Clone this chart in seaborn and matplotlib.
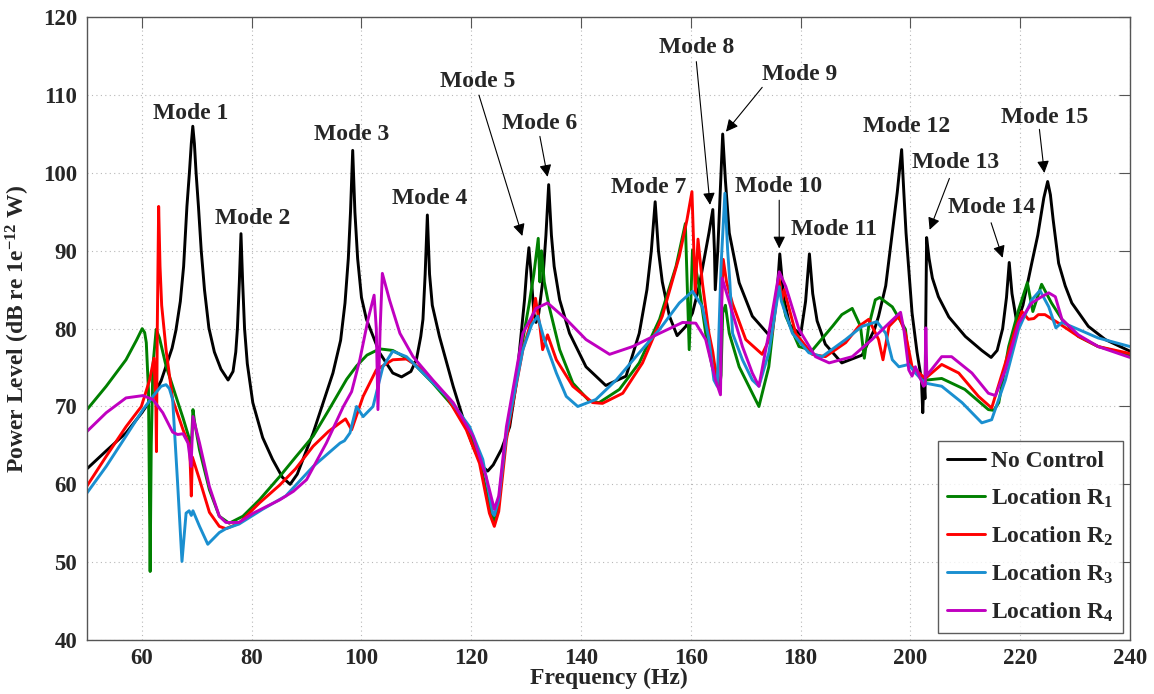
import numpy as np
import pandas as pd
import matplotlib
matplotlib.use("Agg")
import matplotlib.pyplot as plt
import seaborn as sns

# ---- measured sound power spectra (frequency in Hz, level in dB re 1e-12 W) ----
nc_freq = [50, 53.5, 57.1, 60, 62, 63.5, 64.4, 65.5, 66.2, 67.0, 67.6, 68.2, 68.65, 69.0, 69.27,
           69.56, 69.87, 70.3, 70.8, 71.4, 72.2, 73.2, 74.4, 75.7, 76.6, 77.1, 77.4, 77.75, 78.05,
           78.35, 78.7, 79.2, 80.2, 82.0, 83.8, 85.6, 87.0, 88.3, 91.2, 94.8, 96.2, 97.0, 97.6,
           98.0, 98.4, 98.8, 99.3, 100.0, 100.9, 103.3, 105.7, 107.3, 109.0, 110.0, 110.8, 111.2,
           111.6, 112.0, 112.4, 112.9, 114.2, 116.7, 118.5, 120.3, 122.0, 123.0, 124.0, 125.5,
           127.0, 128.2, 128.8, 129.7, 130.1, 130.5, 130.9, 131.4, 131.8, 132.3, 133.0, 133.6,
           134.1, 134.6, 135.1, 136.1, 137.9, 140.9, 144.5, 148.2, 150.6, 152.0, 152.8, 153.5,
           154.1, 154.8, 156.1, 157.5, 159.1, 160.3, 161.5, 163.3, 164.0, 164.3, 164.45, 164.9,
           165.3, 165.8, 166.3, 167.0, 168.8, 171.2, 174.2, 175.4, 175.9, 176.2, 176.6, 177.0,
           178.0, 180.0, 180.9, 181.6, 182.2, 183.0, 184.5, 187.5, 191.2, 193.5, 194.2, 195.5,
           196.7, 197.6, 198.4, 198.8, 199.2, 200.3, 201.2, 202.0, 202.25, 202.45, 202.65, 202.95,
           203.4, 204.0, 205.1, 207.0, 210.0, 213.0, 214.7, 215.8, 216.8, 217.5, 218.0, 218.5,
           219.4, 220.5, 222.1, 223.2, 224.3, 225.0, 225.5, 226.0, 227.0, 228.2, 229.4, 232.4,
           235.5, 240]
nc_db = [62.0, 64.3, 66.6, 69.2, 71.3, 73.3, 75.2, 77.5, 79.8, 83.5, 88.0, 95.7, 100.0, 103.8, 106.0,
         103.8, 100.0, 95.7, 90.1, 85.0, 80.1, 77.0, 74.8, 73.4, 74.5, 77.0, 80.0, 86.0, 92.2,
         86.0, 80.0, 75.5, 70.5, 66.0, 63.2, 60.9, 60.0, 61.3, 66.6, 74.3, 78.5, 83.3, 89.0,
         95.0, 102.9, 95.0, 89.0, 84.0, 81.2, 76.9, 74.3, 73.8, 74.5, 76.0, 79.0, 81.2,
         87.0, 94.6, 87.0, 83.0, 79.0, 72.6, 68.5, 64.9, 62.3, 61.7, 62.5, 64.5,
         67.4, 73.0, 77.3, 83.7, 87.5, 90.4, 87.0, 82.0, 80.8, 82.0, 86.0, 92.0,
         98.5, 92.0, 88.0, 83.7, 79.4, 75.1, 72.7, 73.9, 79.4, 85.0, 90.0, 96.3,
         90.0, 86.0, 81.6, 79.1, 80.3, 82.0, 85.4, 92.3, 95.3, 90.0, 85.0, 90.0,
         96.6, 105.0, 99.0, 92.3, 85.9, 81.6, 79.2, 83.0, 86.5, 89.6, 86.5, 83.7,
         80.5, 79.2, 83.5, 89.6, 84.5, 81.0, 78.0, 75.6, 76.6, 80.0, 81.6, 85.5,
         92.3, 97.5, 103.0, 97.5, 92.3, 82.0, 77.0, 73.5, 69.2, 73.5, 71.0, 91.7,
         89.0, 86.5, 84.1, 81.5, 79.0, 77.2, 76.3, 77.2, 80.0, 84.0, 88.5, 84.5,
         80.7, 83.0, 88.4, 92.0, 96.8, 98.9, 97.2, 94.0, 88.4, 85.5, 83.3, 80.3,
         78.6, 77.1]

r1_freq = [50, 53.5, 57.1, 59.0, 60.05, 60.5, 60.8, 61.2, 61.5, 61.7, 62.0, 62.6, 63.2, 64.4, 66.2,
           67.5, 68.7, 69.0, 69.3, 69.6, 70.5, 72.3, 74.1, 75.9, 78.4, 81.4, 85.1, 88.0, 91.2,
           94.0, 97.3, 99.1, 101.0, 103.3, 105.7, 107.5, 109.4, 113.0, 116.7, 119.7, 121.5,
           123.3, 124.2, 125.0, 126.4, 128.0, 129.4, 130.5, 131.4, 132.2, 132.5, 132.8, 133.3,
           134.2, 136.1, 138.5, 141.5, 143.3, 147.0, 150.6, 154.3, 157.3, 159.0, 159.7, 160.3,
           161.5, 162.7, 163.9, 165.2, 165.5, 165.8, 166.3, 167.0, 168.8, 171.2, 172.4, 174.2,
           175.7, 176.2, 177.3, 179.7, 182.1, 185.8, 187.5, 189.4, 190.9, 191.6, 192.4, 193.6,
           194.4, 196.7, 199.1, 199.7, 200.6, 202.1, 203.0, 205.7, 209.9, 214.2, 215.2, 216.1,
           217.9, 219.7, 221.3, 222.3, 223.9, 225.7, 227.6, 230.6, 234.2, 240]
r1_db = [69.6, 72.6, 76.0, 78.5, 80.0, 79.5, 78.2, 72.0, 48.8, 65.0, 75.2, 79.9, 78.8, 75.2, 71.3,
         68.5, 65.7, 64.8, 69.6, 68.0, 64.4, 59.3, 55.9, 55.0, 55.9, 58.0, 61.0, 63.5, 66.2,
         69.5, 73.5, 75.2, 76.6, 77.4, 77.2, 76.5, 75.6, 73.0, 70.0, 66.6, 63.2,
         57.2, 55.1, 57.5, 66.6, 73.0, 78.6, 83.0, 87.0, 91.6, 86.0, 90.0, 86.0,
         82.8, 77.3, 73.0, 70.7, 70.5, 72.2, 75.6, 81.2, 88.0, 93.5, 77.3, 90.1,
         85.4, 79.4, 75.1, 72.2, 74.0, 82.0, 83.0, 79.4, 75.1, 71.7, 70.0, 75.1,
         84.6, 85.3, 81.6, 77.7, 77.2, 80.3, 81.8, 82.6, 80.3, 76.2, 80.3, 83.7,
         84.0, 82.8, 79.9, 75.6, 74.7, 73.4, 73.4, 73.6, 72.2, 69.6, 69.5, 70.5,
         77.7, 82.4, 85.9, 82.2, 85.7, 83.3, 81.2, 79.0, 77.7, 76.6]

r2_freq = [50, 53.5, 57.1, 59.9, 61.4, 62.2, 62.55, 62.65, 62.8, 63.05, 63.3, 63.6, 64.4, 65.6,
           67.5, 68.7, 69.0, 69.2, 70.5, 72.3, 74.1, 75.3, 77.7, 81.4, 85.1, 88.0, 91.2, 94.0,
           96.1, 97.1, 98.2, 100.3, 102.7, 105.7, 108.2, 111.2, 115.5, 119.1, 121.5, 123.3,
           124.2, 125.0, 126.4, 128.0, 129.4, 131.2, 131.7, 132.5, 133.0, 133.9, 135.5, 138.5,
           142.1, 143.9, 147.6, 151.2, 154.8, 157.9, 159.3, 160.2, 160.8, 161.3, 162.1, 163.3,
           164.0, 164.8, 165.4, 165.9, 166.5, 167.6, 170.0, 173.0, 174.8, 176.1, 176.6, 177.0,
           179.1, 182.1, 184.5, 188.2, 190.6, 192.4, 194.2, 195.0, 196.1, 197.9, 199.1, 200.3,
           202.7, 205.7, 208.8, 212.4, 214.8, 217.3, 219.1, 220.3, 221.5, 222.5, 223.3, 224.5,
           227.0, 230.6, 234.2, 240]
r2_db = [59.8, 63.6, 67.4, 70.0, 73.4, 76.2, 70.0, 64.2, 80.0, 95.7, 88.0, 83.0, 77.3, 70.9,
         67.0, 64.9, 58.5, 63.5, 60.6, 56.4, 54.6, 54.3, 55.0, 57.6, 59.9, 62.0, 64.9, 66.8,
         67.9, 68.4, 67.0, 71.3, 74.7, 76.0, 76.1, 74.7, 71.3, 67.0, 62.7, 56.3,
         54.6, 56.5, 65.7, 72.0, 77.3, 81.6, 83.9, 80.3, 77.3, 79.2, 76.0, 72.6,
         70.5, 70.4, 71.7, 75.6, 81.6, 89.3, 94.0, 97.6, 84.5, 91.5, 85.9, 79.4,
         77.0, 73.0, 80.0, 88.9, 86.0, 83.2, 78.6, 76.7, 79.4, 86.3, 83.7, 85.0,
         79.4, 76.7, 76.4, 78.2, 80.3, 81.2, 78.6, 76.0, 80.3, 81.6, 79.4, 75.1,
         73.6, 75.4, 74.3, 71.3, 69.8, 75.6, 79.9, 82.2, 81.2, 81.3, 81.8, 81.8,
         80.7, 79.0, 77.7, 76.8]

r3_freq = [50, 53.5, 57.1, 60.2, 62.0, 63.5, 64.4, 65.0, 65.6, 66.5, 67.3, 68.05, 68.6, 69.0,
           69.3, 70.5, 72.0, 74.1, 75.3, 77.7, 82.0, 86.2, 91.2, 96.1, 96.9, 97.9, 99.1, 100.3,
           102.1, 103.9, 105.7, 108.2, 111.8, 116.1, 119.7, 122.1, 123.9, 124.2, 125.0, 126.4,
           129.4, 131.0, 132.1, 133.3, 135.5, 137.3, 139.4, 142.7, 146.4, 150.6, 154.3, 157.9,
           160.3, 162.1, 163.3, 164.2, 164.8, 165.5, 166.2, 166.7, 167.1, 167.6, 169.4, 171.2,
           172.4, 174.2, 176.1, 176.5, 178.5, 181.5, 183.9, 188.2, 191.2, 193.9, 195.5, 196.7,
           197.9, 199.1, 199.7, 200.9, 202.7, 205.7, 209.4, 213.0, 214.8, 217.3, 219.7, 222.1,
           223.6, 225.2, 226.5, 227.6, 230.6, 234.2, 240]
r3_db = [58.9, 62.3, 66.2, 69.6, 71.3, 72.6, 72.8, 72.3, 70.9, 60.2, 50.1, 56.3, 56.6, 56.0,
         56.6, 54.6, 52.3, 53.8, 54.3, 54.9, 56.8, 58.5, 62.3, 65.3, 65.6, 66.6, 70.0, 68.7,
         70.0, 75.1, 77.1, 76.4, 73.9, 70.9, 67.4, 63.2, 56.3, 56.0, 58.0, 66.5,
         77.3, 80.5, 81.6, 78.6, 74.3, 71.3, 70.0, 70.9, 73.4, 76.9, 79.9, 83.3,
         84.8, 82.8, 78.6, 73.4, 72.6, 88.0, 97.4, 90.1, 86.0, 79.4, 76.0, 73.4,
         72.6, 76.9, 85.4, 83.5, 79.4, 76.9, 76.4, 78.6, 80.3, 80.9, 79.4, 76.0,
         75.1, 75.3, 75.4, 74.3, 73.0, 72.6, 70.5, 67.9, 68.3, 73.4, 79.9, 83.7,
         84.9, 82.8, 80.1, 80.8, 79.9, 78.8, 77.7]

r4_freq = [50, 53.5, 57.1, 60.2, 62.0, 63.8, 65.6, 66.5, 67.5, 68.4, 68.96, 69.3, 70.5, 72.3,
           74.1, 75.3, 77.7, 80.3, 85.1, 87.6, 90.0, 93.6, 96.7, 98.2, 99.7, 101.2, 102.3, 102.7,
           103.0, 103.4, 103.8, 105.1, 107.0, 109.4, 113.0, 116.7, 120.3, 122.7, 124.2, 125.0,
           126.4, 129.4, 131.8, 133.9, 137.3, 140.9, 145.2, 149.4, 154.3, 158.5, 160.9, 162.7,
           163.9, 164.5, 165.4, 165.7, 167.6, 169.4, 171.2, 172.4, 174.2, 176.1, 177.3, 179.7,
           182.7, 185.2, 189.4, 193.0, 196.1, 198.2, 198.8, 199.7, 200.3, 200.9, 202.4, 202.7,
           202.8, 203.0, 205.7, 207.5, 211.2, 214.2, 215.5, 217.3, 219.7, 222.1, 223.9, 225.2,
           226.4, 227.6, 230.6, 234.2, 240]
r4_db = [66.8, 69.2, 71.1, 71.4, 70.9, 69.2, 66.7, 66.4, 66.5, 65.3, 62.3, 68.7, 65.3, 59.7,
         55.9, 55.1, 55.1, 56.3, 58.0, 59.1, 60.6, 65.3, 70.0, 71.9, 76.0, 81.2, 84.3, 80.0,
         69.6, 80.0, 87.1, 83.7, 79.4, 76.4, 73.4, 70.5, 66.2, 61.0, 56.8, 58.5,
         67.4, 79.4, 82.6, 83.3, 81.2, 78.6, 76.7, 77.7, 79.4, 80.8, 80.7, 78.6,
         75.1, 73.4, 71.5, 86.5, 82.0, 77.7, 74.3, 72.6, 79.4, 87.3, 85.4, 79.9,
         76.4, 75.6, 76.4, 78.6, 80.7, 82.1, 79.9, 74.7, 73.9, 75.1, 72.6, 72.8,
         80.1, 74.0, 76.4, 76.4, 74.3, 71.7, 71.4, 74.7, 80.7, 83.3, 84.1, 84.6,
         84.1, 81.2, 79.2, 77.7, 76.3]

series_names = ["No Control", "Location R$_1$", "Location R$_2$", "Location R$_3$", "Location R$_4$"]
series_colors = ["#000000", "#008000", "#ff0000", "#1a8fd0", "#c000c0"]
series_data = [(nc_freq, nc_db), (r1_freq, r1_db), (r2_freq, r2_db), (r3_freq, r3_db), (r4_freq, r4_db)]

x_ticks = [60, 80, 100, 120, 140, 160, 180, 200, 220, 240]
y_ticks = [40, 50, 60, 70, 80, 90, 100, 110, 120]

# mode labels: (text, label position, arrow tail, arrow head) in data units
mode_labels = [
    ("Mode 1", (68.8, 107.7), None, None),
    ("Mode 2", (80.1, 94.2), None, None),
    ("Mode 3", (98.2, 105.0), None, None),
    ("Mode 4", (112.4, 96.7), None, None),
    ("Mode 5", (121.2, 111.8), (121.4, 110.0), (129.3, 91.9)),
    ("Mode 6", (132.4, 106.4), (132.5, 104.7), (133.9, 99.5)),
    ("Mode 7", (152.4, 98.1), None, None),
    ("Mode 8", (161.0, 116.1), (161.0, 114.3), (163.5, 95.9)),
    ("Mode 9", (179.9, 112.6), (173.0, 111.0), (166.4, 105.3)),
    ("Mode 10", (175.9, 98.3), (176.1, 96.5), (176.1, 90.3)),
    ("Mode 11", (186.0, 92.7), None, None),
    ("Mode 12", (199.3, 106.0), None, None),
    ("Mode 13", (208.2, 101.3), (207.1, 99.3), (203.5, 92.7)),
    ("Mode 14", (214.8, 95.6), (214.7, 93.6), (216.8, 89.1)),
    ("Mode 15", (224.4, 107.1), (223.5, 105.6), (224.4, 100.0)),
]

sns.set_style("white")
serif = ["Liberation Serif", "DejaVu Serif"]
plt.rcParams["font.family"] = serif
plt.rcParams["font.weight"] = "bold"
plt.rcParams["mathtext.fontset"] = "custom"
plt.rcParams["mathtext.rm"] = "Liberation Serif:bold"
plt.rcParams["mathtext.it"] = "Liberation Serif:bold"
plt.rcParams["mathtext.bf"] = "Liberation Serif:bold"
plt.rcParams["mathtext.default"] = "rm"

fig = plt.figure(figsize=(11.54, 6.94), dpi=100)
ax = fig.add_axes([0.0754, 0.0778, 0.9038, 0.8973])

for name, color, (fr, db) in zip(series_names, series_colors, series_data):
    df = pd.DataFrame({"Frequency": fr, "Level": db})
    sns.lineplot(data=df, x="Frequency", y="Level", ax=ax, color=color, lw=2.1,
                 sort=False, estimator=None, label=name)

ax.set_xlim(50, 240)
ax.set_ylim(40, 120)
ax.set_xticks(x_ticks)
ax.set_yticks(y_ticks)
ax.set_xticklabels([str(v) for v in x_ticks])
ax.set_yticklabels([str(v) for v in y_ticks])
ax.grid(True, linestyle=(0, (1, 3)), color="#b8b8b8", lw=0.8)
ax.tick_params(direction="in", length=8, width=0.8, color="#555555",
               top=True, right=True, labelsize=16.5, pad=7)
ax.tick_params(axis="x", pad=6)
for lab in ax.get_xticklabels() + ax.get_yticklabels():
    lab.set_fontweight("bold")
for sp in ax.spines.values():
    sp.set_visible(True)
    sp.set_color("#555555")
    sp.set_linewidth(1.0)

ax.set_xlabel("Frequency (Hz)", fontsize=17, fontweight="bold", labelpad=-1)
ax.set_ylabel("Power Level (dB re 1e$^{-12}$ W)", fontsize=17, fontweight="bold", labelpad=8)

for text, pos, tail, head in mode_labels:
    ax.text(pos[0], pos[1], text, fontsize=17, fontweight="bold", ha="center", va="center")
    if tail is not None:
        ax.annotate("", xy=head, xytext=tail,
                    arrowprops=dict(arrowstyle="-|>", color="black", lw=0.8,
                                    mutation_scale=18, shrinkA=0, shrinkB=0))

leg = ax.legend(loc="lower right", bbox_to_anchor=(0.9933, 0.0112), borderaxespad=0,
                frameon=True, fancybox=False, edgecolor="#333333",
                handlelength=1.6, handletextpad=0.25, borderpad=0.4, labelspacing=0.62,
                prop={"weight": "bold", "size": 17})
leg.get_frame().set_linewidth(1.0)
for line in leg.get_lines():
    line.set_linewidth(2.1)

fig.savefig("out.png", dpi=100)
